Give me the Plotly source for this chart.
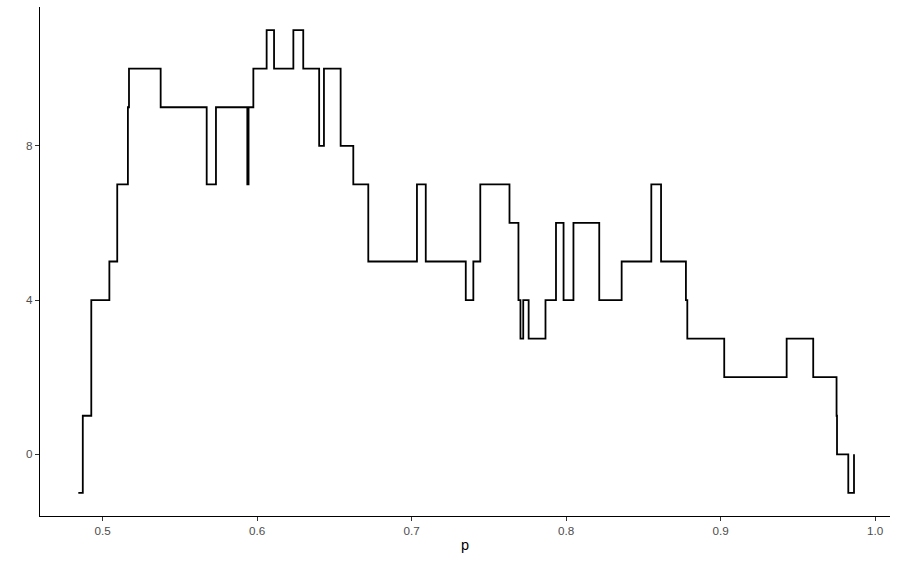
import plotly.graph_objects as go

# step points (geom_step, direction "hv")
p = [0.4842, 0.4871, 0.4926, 0.5043, 0.5094, 0.5163, 0.5170, 0.5375, 0.5673, 0.5733,
     0.5936, 0.5944, 0.5975, 0.6061, 0.6109, 0.6234, 0.6298, 0.6401, 0.6432, 0.6540,
     0.6622, 0.6719, 0.7034, 0.7091, 0.7350, 0.7399, 0.7444, 0.7633, 0.7691, 0.7704,
     0.7722, 0.7757, 0.7866, 0.7934, 0.7983, 0.8047, 0.8214, 0.8359, 0.8551, 0.8614,
     0.8775, 0.8784, 0.9023, 0.9427, 0.9599, 0.9750, 0.9753, 0.9826, 0.9863]
val = [-1, 1, 4, 5, 7, 9, 10, 9, 7, 9,
       7, 9, 10, 11, 10, 11, 10, 8, 10, 8,
       7, 5, 7, 5, 4, 5, 7, 6, 4, 3,
       4, 3, 4, 6, 4, 6, 4, 5, 7, 5,
       4, 3, 2, 3, 2, 1, 0, -1, 0]

x_ticks = [0.5, 0.6, 0.7, 0.8, 0.9, 1.0]
x_tick_labels = ["0.5", "0.6", "0.7", "0.8", "0.9", "1.0"]
y_ticks = [0, 4, 8]
y_tick_labels = ["0", "4", "8"]
x_title = "p"

fig = go.Figure()
fig.add_trace(go.Scatter(
    x=p, y=val, mode="lines",
    line=dict(shape="hv", color="#000000", width=1.8),
    showlegend=False, hoverinfo="skip",
))

font_family = "Liberation Sans, Arial, sans-serif"
fig.update_layout(
    width=900, height=561,
    margin=dict(l=40, r=10, t=7, b=45, autoexpand=False),
    paper_bgcolor="white", plot_bgcolor="white",
    font=dict(family=font_family, color="#4d4d4d", size=11.7),
    xaxis=dict(
        range=[0.4594, 1.0096], automargin=False,
        tickvals=x_ticks, ticktext=x_tick_labels,
        showgrid=False, zeroline=False,
        showline=True, linecolor="#000000", linewidth=1.1,
        ticks="outside", ticklen=4, tickcolor="#333333", tickwidth=1.1,
        tickfont=dict(size=11.7, color="#4d4d4d"),
    ),
    yaxis=dict(
        range=[-1.6, 11.6], automargin=False,
        tickvals=y_ticks, ticktext=y_tick_labels,
        showgrid=False, zeroline=False,
        showline=True, linecolor="#000000", linewidth=1.1,
        ticks="outside", ticklen=4, tickcolor="#333333", tickwidth=1.1,
        tickfont=dict(size=11.7, color="#4d4d4d"),
    ),
    annotations=[dict(
        text=x_title, xref="paper", yref="paper", x=0.5, y=0,
        yshift=-29, xanchor="center", yanchor="middle", showarrow=False,
        font=dict(size=14.5, color="#000000", family=font_family),
    )],
)

fig.write_html(
    "out.html",
    config={"displayModeBar": False},
    post_script="document.body.style.margin='0';document.body.style.padding='0';",
)
